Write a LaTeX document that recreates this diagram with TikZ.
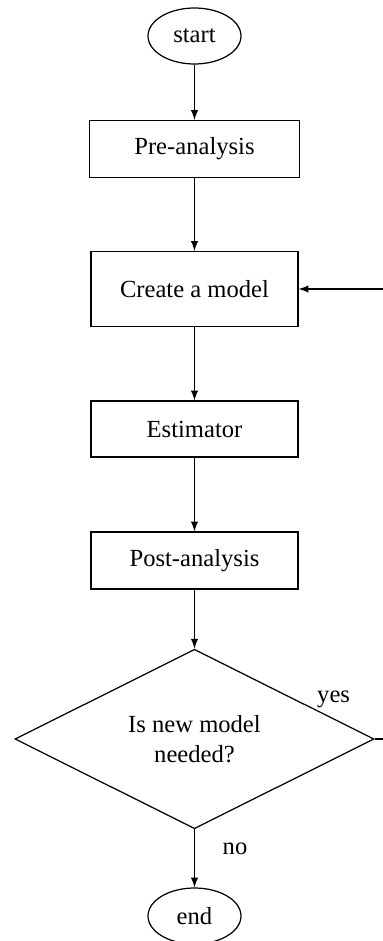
\documentclass[tikz,border=0pt]{standalone}
\usepackage{fontspec}
\setmainfont{Liberation Serif}
\usepackage{tikz}
\usetikzlibrary{shapes.geometric, arrows}
\tikzstyle{terminal} = [ellipse,
minimum width=1.86cm,
minimum height=1.12cm,
inner sep=0pt,
text centered,
draw=black,
line width=0.7pt]
\tikzstyle{process} = [rectangle,
minimum width=4.14cm,
minimum height=1.14cm,
text centered,
draw=black,
line width=0.7pt]
\tikzstyle{decision} = [diamond,
minimum width=7.18cm,
minimum height=2.94cm,
inner sep=0pt,
align=center,
draw=black,
line width=0.7pt]
\tikzstyle{flow} = [->, >=latex, line width=0.9pt]

\begin{document}
\begin{tikzpicture}[node distance=2.8cm]
\tikzstyle{every node}=[font=\fontsize{14}{16.8}\selectfont]
\useasboundingbox (-3.89,0.72) rectangle (3.77,-18.10);
\node (start) [terminal] {start};
\node (pre) [process, below of=start, yshift=0.54cm, minimum width=4.2cm] {Pre-analysis};
\node (create) [process, below of=pre, minimum height=1.5cm] {Create a model};
\node (est) [process, below of=create, minimum height=1.12cm] {Estimator};
\node (post) [process, below of=est, yshift=0.17cm] {Post-analysis};
\node (dec) [decision, below of=post, yshift=-0.77cm] {Is new model\\needed?};
\node (stop) [terminal, below of=dec, yshift=-0.74cm] {end};
\node (yes) at ([xshift=-0.82cm, yshift=0.8cm]dec.east) {yes};
\node (no) at ([xshift=0.81cm, yshift=-0.38cm]dec.south) {no};

\draw [flow] (start) edge (pre);
\draw [flow] (pre) edge (create);
\draw [flow] (create) edge (est);
\draw [flow] (est) edge (post);
\draw [flow] (post) edge (dec);
\draw [flow] (dec) edge (stop);
\draw [flow] (dec.east) -- ++(0.5,0) |- (create.east);
\end{tikzpicture}
\end{document}
